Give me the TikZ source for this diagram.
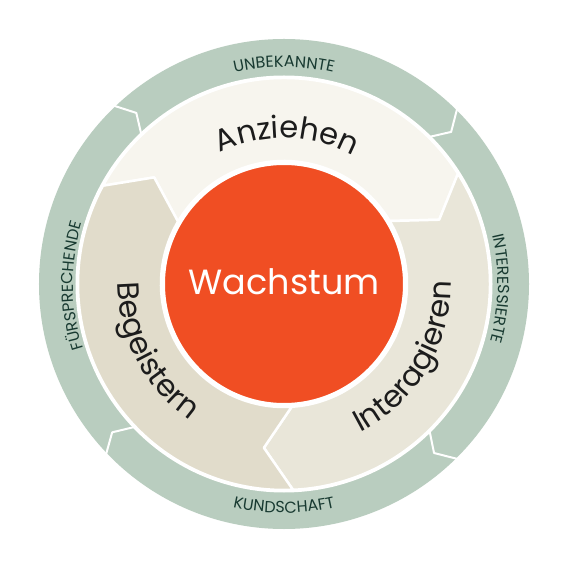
\documentclass[tikz,border=0pt]{standalone}
\usepackage{fontspec}
\setmainfont{Poppins}
\usetikzlibrary{decorations.text}
\definecolor{band}{HTML}{B9CDBF}
\definecolor{bandtext}{HTML}{183A31}
\definecolor{segA}{HTML}{F7F5EE}
\definecolor{segI}{HTML}{E9E6D9}
\definecolor{segB}{HTML}{E1DCCB}
\definecolor{core}{HTML}{F04E23}
\definecolor{labtext}{HTML}{1C1C1C}
\newcommand\labfont{\fontsize{30.5pt}{30.5pt}\selectfont\color{labtext}}
\newcommand\bandfont{\fontsize{16pt}{16pt}\selectfont\color{bandtext}}
\begin{document}
\begin{tikzpicture}[
  seg/.style={draw=white, line width=2.5pt, line join=round},
  chev/.style={draw=white, line width=2pt, line join=round},
  curved/.style={decorate, decoration={text along path, text align=center, text={#1}}}
]
\useasboundingbox (-284pt,-283pt) rectangle (283pt,284pt);
\fill[white] (-284pt,-283pt) rectangle (283pt,284pt);
% outer band
\fill[band] (0,0) circle[radius=245pt];
\fill[white] (0,0) circle[radius=208.5pt];
% segments
\filldraw[seg, fill=segA] (151.5:206pt) arc[start angle=151.5, end angle=32.4, radius=206pt]
  -- (22.5:168pt) -- (30.8:123pt) arc[start angle=30.8, end angle=149.5, radius=123pt]
  -- (140.6:168pt) -- cycle;
\filldraw[seg, fill=segI] (32.4:206pt) arc[start angle=32.4, end angle=-87.5, radius=206pt]
  -- (-97:165pt) -- (-86.4:123pt) arc[start angle=-86.4, end angle=30.8, radius=123pt]
  -- (22.5:168pt) -- cycle;
\filldraw[seg, fill=segB] (-87.5:206pt) arc[start angle=-87.5, end angle=-208.5, radius=206pt]
  -- (140.6:168pt) -- (149.5:123pt) arc[start angle=149.5, end angle=273.6, radius=123pt]
  -- (-97:165pt) -- cycle;
% core
\node[circle, fill=core, draw=white, line width=3pt, minimum size=241pt, inner sep=0pt] (corec) at (0,0) {};
\node[anchor=base, text=white, font=\fontsize{35pt}{35pt}\selectfont, inner sep=0pt] (wach) at (0,-10.5pt) {Wachstum};
% band chevrons
\draw[chev] (45.3:246pt) -- (42.3:226pt) -- (45.3:207pt);
\draw[chev] (-45.3:246pt) -- (-48.4:226pt) -- (-45.3:207pt);
\draw[chev] (-136.3:246pt) -- (-139.2:227pt) -- (-136.3:207pt);
\draw[chev] (133.6:246pt) -- (130.8:226pt) -- (133.6:207pt);
% segment labels
\path[curved={|\labfont|Anziehen}] (178.8:146pt) arc[start angle=178.8, end angle=-1.2, radius=146pt];
\path[curved={|\labfont|Begeistern}] (117.5:166pt) arc[start angle=117.5, end angle=297.5, radius=166pt];
\path[curved={|\labfont|Interagieren}] (-121:167pt) arc[start angle=-121, end angle=59, radius=167pt];
% band labels
\path[curved={|\bandfont|UNBEKANNTE}] (180:217pt) arc[start angle=180, end angle=0, radius=217pt];
\path[curved={|\bandfont|INTERESSIERTE}] (88.8:214pt) arc[start angle=88.8, end angle=-91.2, radius=214pt];
\path[curved={|\bandfont|KUNDSCHAFT}] (180:229pt) arc[start angle=180, end angle=360, radius=229pt];
\path[curved={|\bandfont|FÜRSPRECHENDE}] (270.5:211pt) arc[start angle=270.5, end angle=90.5, radius=211pt];
\end{tikzpicture}
\end{document}
